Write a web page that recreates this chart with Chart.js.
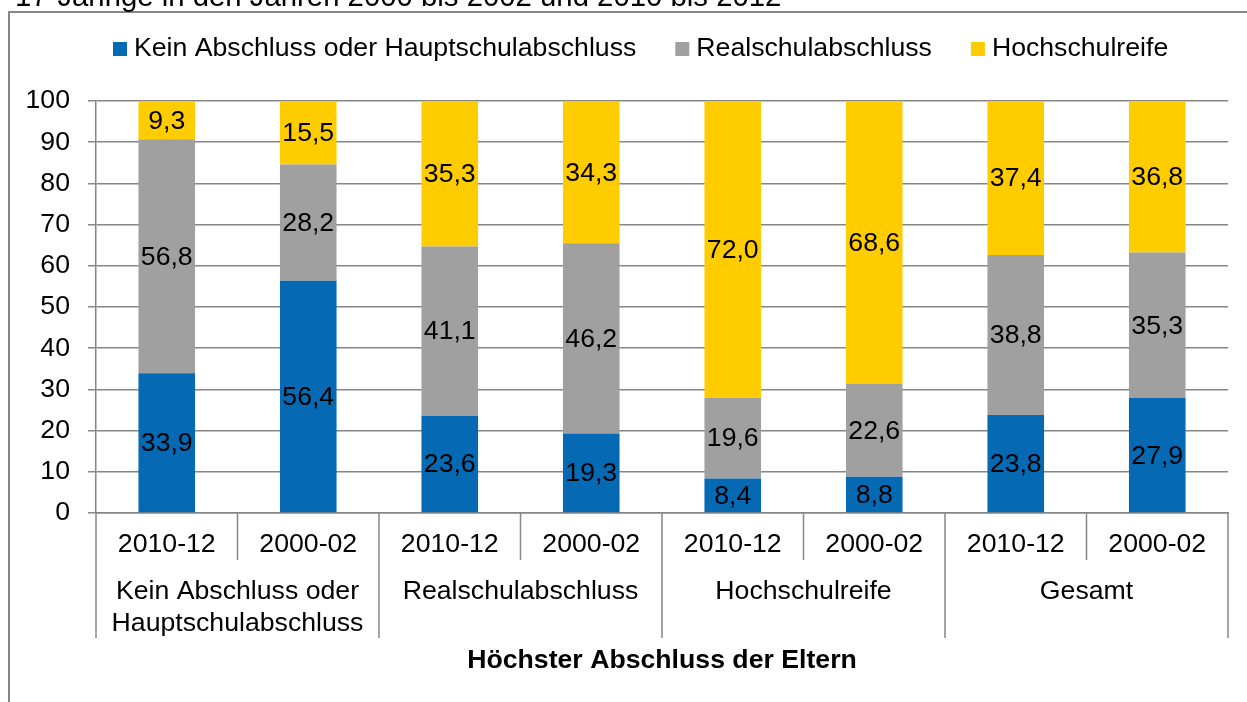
<!DOCTYPE html>
<html>
<head>
<meta charset="utf-8">
<script src="https://cdn.jsdelivr.net/npm/chart.js@4.4.0/dist/chart.umd.min.js"></script>
<style>
  html, body { margin: 0; padding: 0; background: #fff; }
  #wrap { width: 1247px; height: 702px; }
</style>
</head>
<body>
<div id="wrap"><canvas id="abschlussChart" width="1247" height="702"></canvas></div>
<script>
// Zeiträume je Balken
const periods = ['2010-12', '2000-02', '2010-12', '2000-02', '2010-12', '2000-02', '2010-12', '2000-02'];
// Gruppen (höchster Abschluss der Eltern), je zwei Balken
const groups = [['Kein Abschluss oder', 'Hauptschulabschluss'], ['Realschulabschluss'], ['Hochschulreife'], ['Gesamt']];

const seriesNames = ['Kein Abschluss oder Hauptschulabschluss', 'Realschulabschluss', 'Hochschulreife'];
const keinOderHaupt = [33.9, 56.4, 23.6, 19.3, 8.4, 8.8, 23.8, 27.9];
const realschule = [56.8, 28.2, 41.1, 46.2, 19.6, 22.6, 38.8, 35.3];
const hochschulreife = [9.3, 15.5, 35.3, 34.3, 72.0, 68.6, 37.4, 36.8];

const titleText = '17-Jährige in den Jahren 2000 bis 2002 und 2010 bis 2012';
const axisTitle = 'Höchster Abschluss der Eltern';

const FONT = '"Liberation Sans", Arial, Helvetica, sans-serif';
const SIZE = 26.67; // 20pt
const LINE = '#868686';
const colors = ['#0569b3', '#a0a0a0', '#ffcc00'];

Chart.defaults.font.family = FONT;
Chart.defaults.font.size = SIZE;
Chart.defaults.color = '#000';

let fmt = (v) => v.toFixed(1).replace('.', ',');

// Rahmen, Titelrest, Legende, Gruppenachse
const decorations = {
    id: 'decorations',
    afterDatasetsDraw(chart) {
        const ctx = chart.ctx;
        ctx.save();
        ctx.font = SIZE + 'px ' + FONT;
        ctx.fillStyle = '#000';
        ctx.textAlign = 'center';
        ctx.textBaseline = 'middle';
        chart.data.datasets.forEach((ds, di) => {
            chart.getDatasetMeta(di).data.forEach((bar, i) => {
                const p = bar.getProps(['x', 'y', 'base'], true);
                ctx.fillText(fmt(ds.data[i]), p.x, (p.y + p.base) / 2 + 1);
            });
        });
        ctx.restore();
    },
    afterDraw(chart) {
        const ctx = chart.ctx;
        const area = chart.chartArea;
        const x = chart.scales.x;
        ctx.save();

        // Rahmen
        ctx.strokeStyle = LINE;
        ctx.lineWidth = 2;
        ctx.beginPath();
        ctx.moveTo(9, 702);
        ctx.lineTo(9, 12);
        ctx.lineTo(1247, 12);
        ctx.stroke();

        // abgeschnittener Titel
        ctx.fillStyle = '#000';
        ctx.font = '29.33px ' + FONT;
        ctx.textAlign = 'left';
        ctx.textBaseline = 'alphabetic';
        ctx.fillText(titleText, 15, 6);

        // Legende
        ctx.font = SIZE + 'px ' + FONT;
        ctx.textBaseline = 'middle';
        let lx = 113;
        chart.data.datasets.forEach((ds) => {
            ctx.fillStyle = ds.backgroundColor;
            ctx.fillRect(lx, 42, 14, 14);
            ctx.fillStyle = '#000';
            ctx.fillText(ds.label, lx + 21, 49);
            lx += 21 + ctx.measureText(ds.label).width + 39;
        });

        // Trennlinien der Kategorien
        const edges = [area.left];
        for (let i = 0; i < periods.length - 1; i++) {
            edges.push((x.getPixelForValue(i) + x.getPixelForValue(i + 1)) / 2);
        }
        edges.push(area.right);
        ctx.strokeStyle = LINE;
        ctx.lineWidth = 1.5;
        edges.forEach((ex, i) => {
            ctx.beginPath();
            ctx.moveTo(ex, area.bottom);
            ctx.lineTo(ex, i % 2 === 0 ? 638 : 560);
            ctx.stroke();
        });

        // Gruppenbeschriftung
        ctx.fillStyle = '#000';
        ctx.textAlign = 'center';
        groups.forEach((lines, g) => {
            const cx = (edges[g * 2] + edges[g * 2 + 2]) / 2;
            lines.forEach((t, li) => ctx.fillText(t, cx, 592 + li * 32));
        });

        // Achsentitel
        ctx.font = 'bold ' + SIZE + 'px ' + FONT;
        ctx.fillText(axisTitle, (area.left + area.right) / 2, 661);
        ctx.restore();
    }
};

let abschlussChart = new Chart(document.getElementById('abschlussChart').getContext('2d'), {
    type: 'bar',
    data: {
        labels: periods,
        datasets: [
            { label: seriesNames[0], data: keinOderHaupt, backgroundColor: colors[0] },
            { label: seriesNames[1], data: realschule, backgroundColor: colors[1] },
            { label: seriesNames[2], data: hochschulreife, backgroundColor: colors[2] },
        ]
    },
    options: {
        responsive: false,
        animation: false,
        maintainAspectRatio: false,
        categoryPercentage: 1,
        barPercentage: 0.4,
        layout: {
            padding: { left: 0, right: 19, top: 101, bottom: 0 }
        },
        plugins: {
            legend: { display: false },
            tooltip: { enabled: false },
        },
        scales: {
            x: {
                stacked: true,
                afterFit: (scale) => { scale.height = 189; },
                grid: { display: false, drawTicks: false },
                border: { color: LINE, width: 1.5 },
                ticks: { padding: 16, color: '#000', font: { size: SIZE } },
            },
            y: {
                stacked: true,
                min: 0,
                max: 100,
                afterFit: (scale) => { scale.width = 96; },
                grid: { color: LINE, lineWidth: 1.5, tickLength: 8 },
                border: { color: LINE, width: 1.5 },
                ticks: { stepSize: 10, padding: 18, color: '#000', font: { size: SIZE } },
            }
        }
    },
    plugins: [decorations]
});
</script>
</body>
</html>
